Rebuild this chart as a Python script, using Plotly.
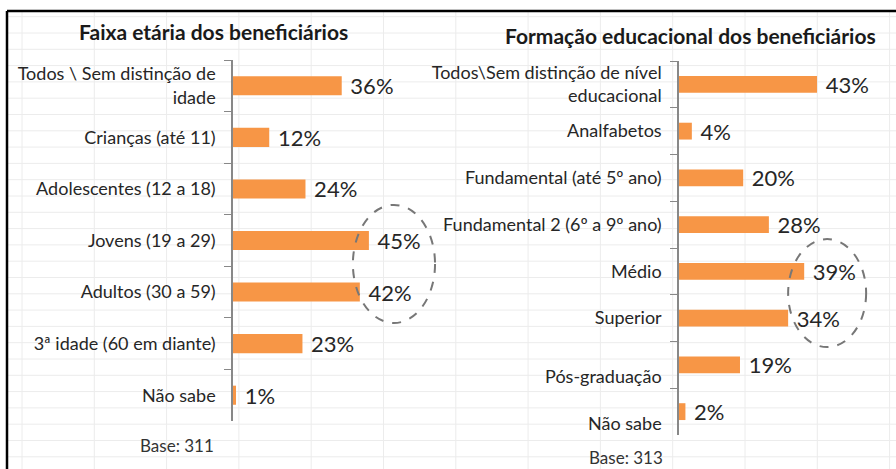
import plotly.graph_objects as go

W, H = 896, 469

# faixa etaria
age_labels = ["Todos \\ Sem distinção de<br>idade", "Crianças (até 11)", "Adolescentes (12 a 18)",
              "Jovens (19 a 29)", "Adultos (30 a 59)", "3ª idade (60 em diante)", "Não sabe"]
age_values = [36, 12, 24, 45, 42, 23, 1]

# formacao educacional
edu_labels = ["Todos\\Sem distinção de nível<br>educacional", "Analfabetos", "Fundamental (até 5º ano)",
              "Fundamental 2 (6º a 9º ano)", "Médio", "Superior",
              "<br>Pós-graduação", "<br>Não sabe"]
edu_values = [43, 4, 20, 28, 39, 34, 19, 2]

orange = "#F79646"
txt = "#262626"
font = "Lato"

def px_x(p):
    return p / W

def px_y(p):
    return 1 - p / H

fig = go.Figure()

fig.add_trace(go.Bar(x=age_values, y=age_labels, orientation="h", width=0.37,
                     marker=dict(color=orange, line_width=0),
                     text=[f" {v}%" for v in age_values], textposition="outside",
                     constraintext="none",
                     textfont=dict(size=22, color=txt, family=font),
                     cliponaxis=False, xaxis="x", yaxis="y"))
fig.add_trace(go.Bar(x=edu_values, y=edu_labels, orientation="h", width=0.36,
                     marker=dict(color=orange, line_width=0),
                     text=[f" {v}%" for v in edu_values], textposition="outside",
                     constraintext="none",
                     textfont=dict(size=22, color=txt, family=font),
                     cliponaxis=False, xaxis="x2", yaxis="y2"))

# spreadsheet grid behind everything
shapes = []
gx = 22.0
while gx < W:
    shapes.append(dict(type="line", xref="paper", yref="paper", x0=px_x(gx), x1=px_x(gx),
                       y0=px_y(12), y1=0, line=dict(color="#ececec", width=1), layer="below"))
    gx += 72.3
gy = 16.7
while gy < H:
    shapes.append(dict(type="line", xref="paper", yref="paper", x0=px_x(8), x1=1,
                       y0=px_y(gy), y1=px_y(gy), line=dict(color="#ececec", width=1), layer="below"))
    gy += 16.3

# border
shapes.append(dict(type="line", xref="paper", yref="paper", x0=px_x(7), x1=1, y0=px_y(11), y1=px_y(11),
                   line=dict(color="black", width=2.5)))
shapes.append(dict(type="line", xref="paper", yref="paper", x0=px_x(7), x1=px_x(7), y0=px_y(11), y1=0,
                   line=dict(color="black", width=2.5)))

# dashed ellipses
shapes.append(dict(type="circle", xref="x", yref="y", x0=39.7, x1=66.9, y0=2.31, y1=4.6,
                   line=dict(color="#777777", width=2, dash="dash")))
shapes.append(dict(type="circle", xref="x2", yref="y2", x0=34.0, x1=58.3, y0=3.31, y1=5.62,
                   line=dict(color="#777777", width=2, dash="dash")))

annotations = [
    dict(text="<b>Faixa etária dos beneficiários</b>", x=px_x(213), y=px_y(32), xref="paper", yref="paper",
         xanchor="center", yanchor="middle",
         showarrow=False, font=dict(size=21, color="#1a1a1a", family=font)),
    dict(text="<b>Formação educacional dos beneficiários</b>", x=px_x(690), y=px_y(35), xref="paper",
         yref="paper", xanchor="center", yanchor="middle",
         showarrow=False, font=dict(size=21, color="#1a1a1a", family=font)),
    dict(text="Base: 311", x=px_x(216), y=px_y(445), xref="paper", yref="paper", xanchor="right",
         yanchor="middle", showarrow=False, font=dict(size=17, color="#333333", family=font)),
    dict(text="Base: 313", x=px_x(665), y=px_y(457), xref="paper", yref="paper", xanchor="right",
         yanchor="middle", showarrow=False, font=dict(size=17, color="#333333", family=font)),
]

yaxis_common = dict(type="category", tickson="boundaries", ticks="outside", ticklen=7,
                    tickcolor="#888888", showline=True, linecolor="#888888", linewidth=1.5,
                    showgrid=False, zeroline=False, ticklabelstandoff=12, automargin=False,
                    tickfont=dict(size=18, color=txt, family=font))
xaxis_common = dict(visible=False, showgrid=False, zeroline=False, automargin=False)

fig.update_layout(
    width=W, height=H, margin=dict(l=0, r=0, t=0, b=0, pad=0), autosize=False,
    paper_bgcolor="white", plot_bgcolor="rgba(0,0,0,0)",
    showlegend=False, font=dict(family=font),
    xaxis=dict(domain=[px_x(233), px_x(440)], range=[0, 207 / 3.02], **xaxis_common),
    yaxis=dict(domain=[px_y(421), px_y(60)], range=[len(age_labels) - 0.5, -0.5], anchor="x",
               **yaxis_common),
    xaxis2=dict(domain=[px_x(679), 1], range=[0, 217 / 3.21], anchor="y2", **xaxis_common),
    yaxis2=dict(domain=[px_y(435), px_y(61)], range=[len(edu_labels) - 0.5, -0.5], anchor="x2",
                **yaxis_common),
    shapes=shapes, annotations=annotations,
)

# browser default body margin shifts the figure by 8px
fig.write_html("out.html", config={"displayModeBar": False},
               post_script="document.body.style.margin='0';")
